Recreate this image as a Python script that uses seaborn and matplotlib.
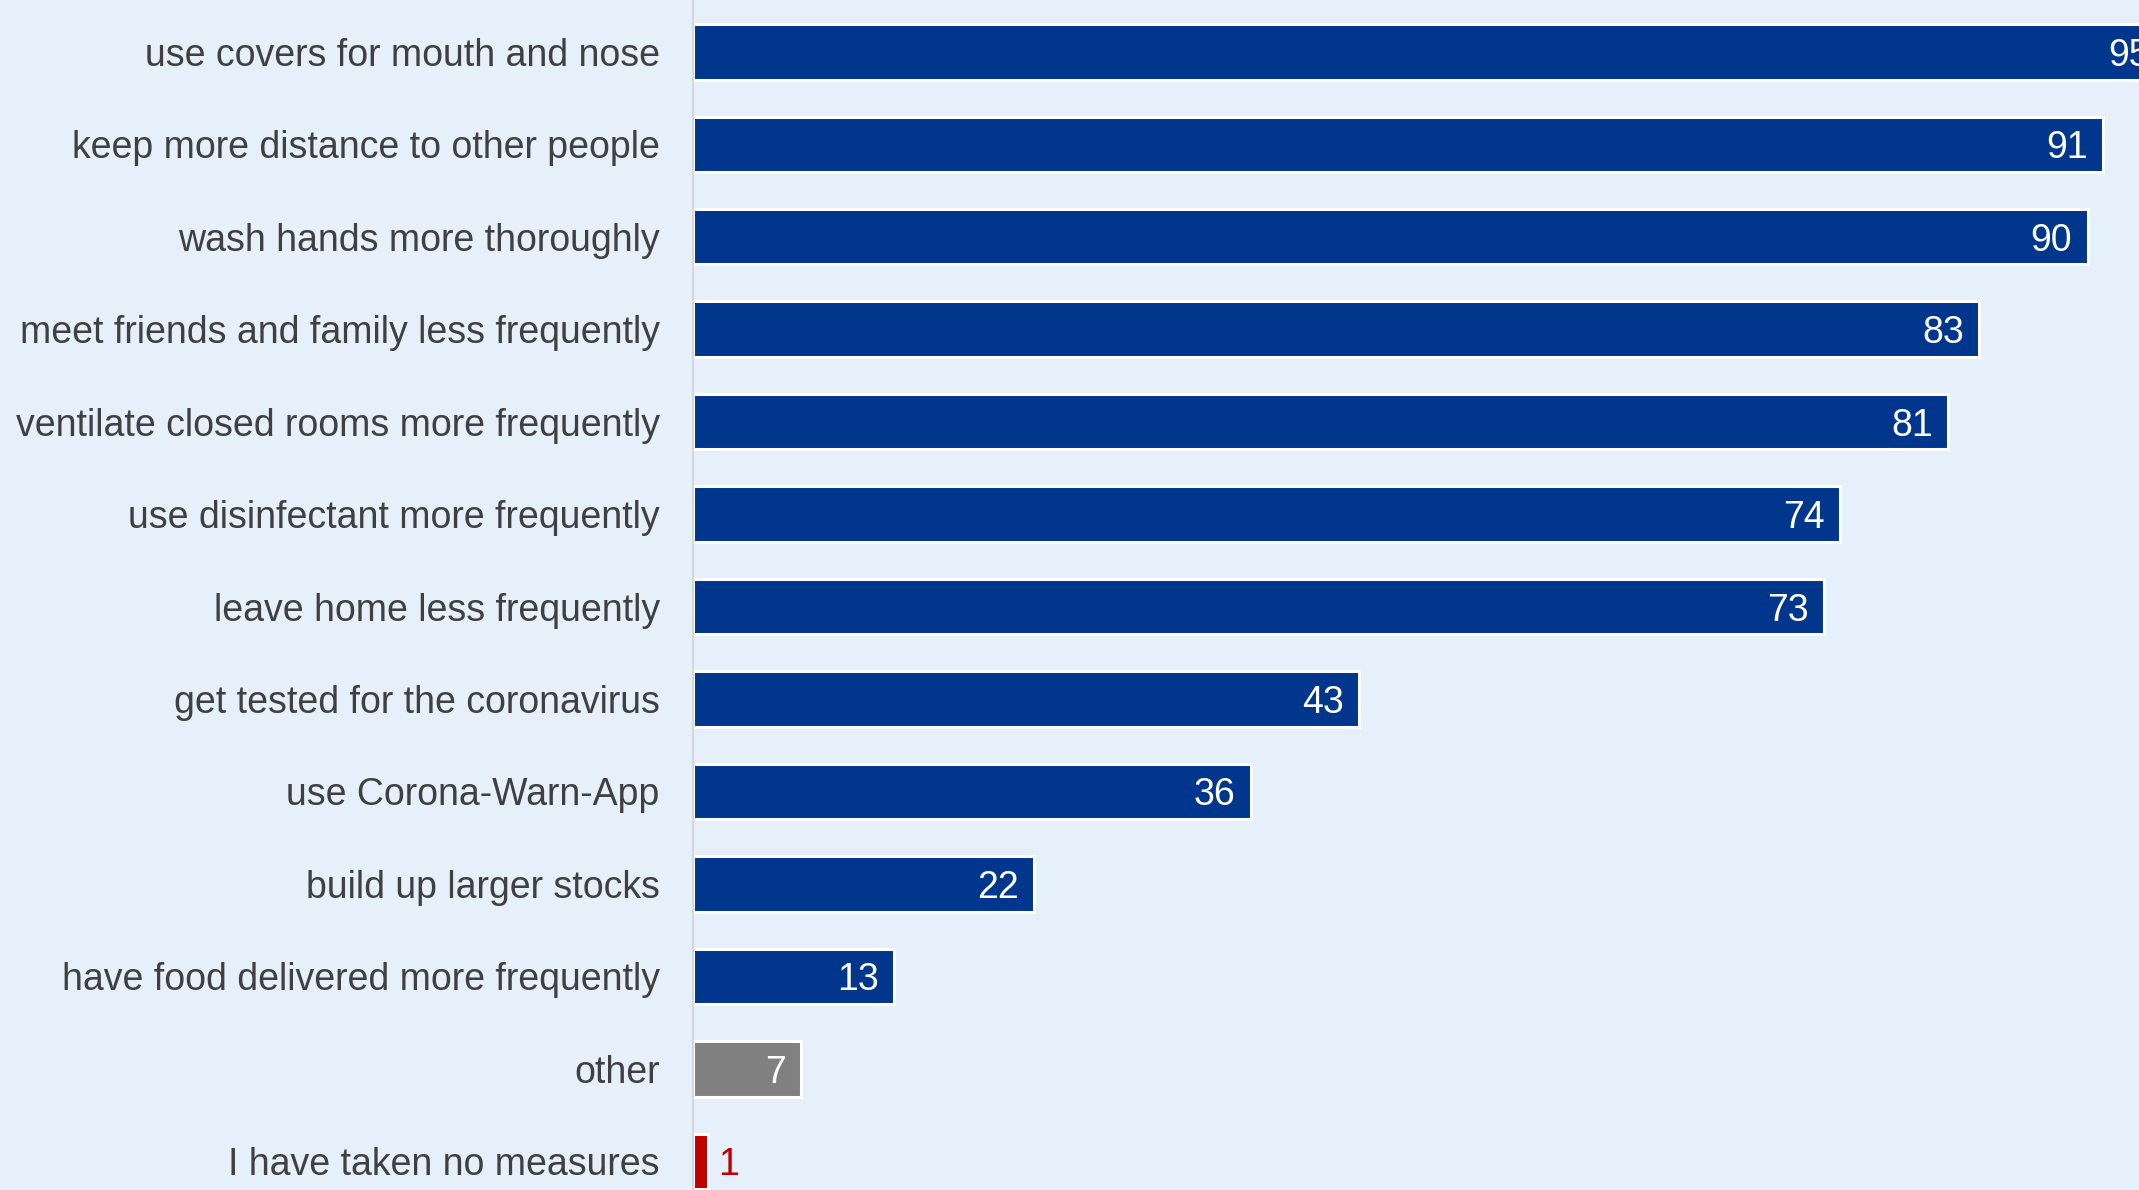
import matplotlib
matplotlib.use('Agg')
import matplotlib.pyplot as plt
import seaborn as sns
import pandas as pd

measures = [
    'use covers for mouth and nose',
    'keep more distance to other people',
    'wash hands more thoroughly',
    'meet friends and family less frequently',
    'ventilate closed rooms more frequently',
    'use disinfectant more frequently',
    'leave home less frequently',
    'get tested for the coronavirus',
    'use Corona-Warn-App',
    'build up larger stocks',
    'have food delivered more frequently',
    'other',
    'I have taken no measures',
]
shares = [95, 91, 90, 83, 81, 74, 73, 43, 36, 22, 13, 7, 1]
bar_colors = ['#00368C'] * 11 + ['#808080', '#C00000']

bg = '#E6F0FA'
sns.set_style('white')
plt.rcParams['font.family'] = ['Liberation Sans', 'DejaVu Sans']

df = pd.DataFrame({'measure': measures, 'share': shares})

fig = plt.figure(figsize=(21.39, 11.9), dpi=100, facecolor=bg)
ax = fig.add_axes([693 / 2139, 0, 1 - 693 / 2139, 1])
ax.set_facecolor(bg)

sns.barplot(data=df, x='share', y='measure', hue='measure', palette=bar_colors,
            legend=False, width=0.6, edgecolor='white', linewidth=2.2,
            saturation=1, ax=ax)

ax.set_xlim(0, 93.3)
ax.set_ylim(12.31, -0.56)

# value labels: inside the bar end, red one outside
for i, v in enumerate(shares):
    if v < 3:
        ax.text(v + 0.6, i, str(v), color='#C00000', fontsize=27,
                va='center_baseline', ha='left')
    else:
        ax.text(v - 1.0, i, str(v), color='white', fontsize=27,
                va='center_baseline', ha='right')

ax.set_xlabel('')
ax.set_ylabel('')
ax.set_xticks([])
ax.tick_params(axis='y', length=0, pad=24, labelsize=27, labelcolor='#404040')
for side in ['top', 'right', 'bottom']:
    ax.spines[side].set_visible(False)
ax.spines['left'].set_color('#D4D8DE')
ax.spines['left'].set_linewidth(1.5)

fig.savefig('out.png', dpi=100, facecolor=bg)
